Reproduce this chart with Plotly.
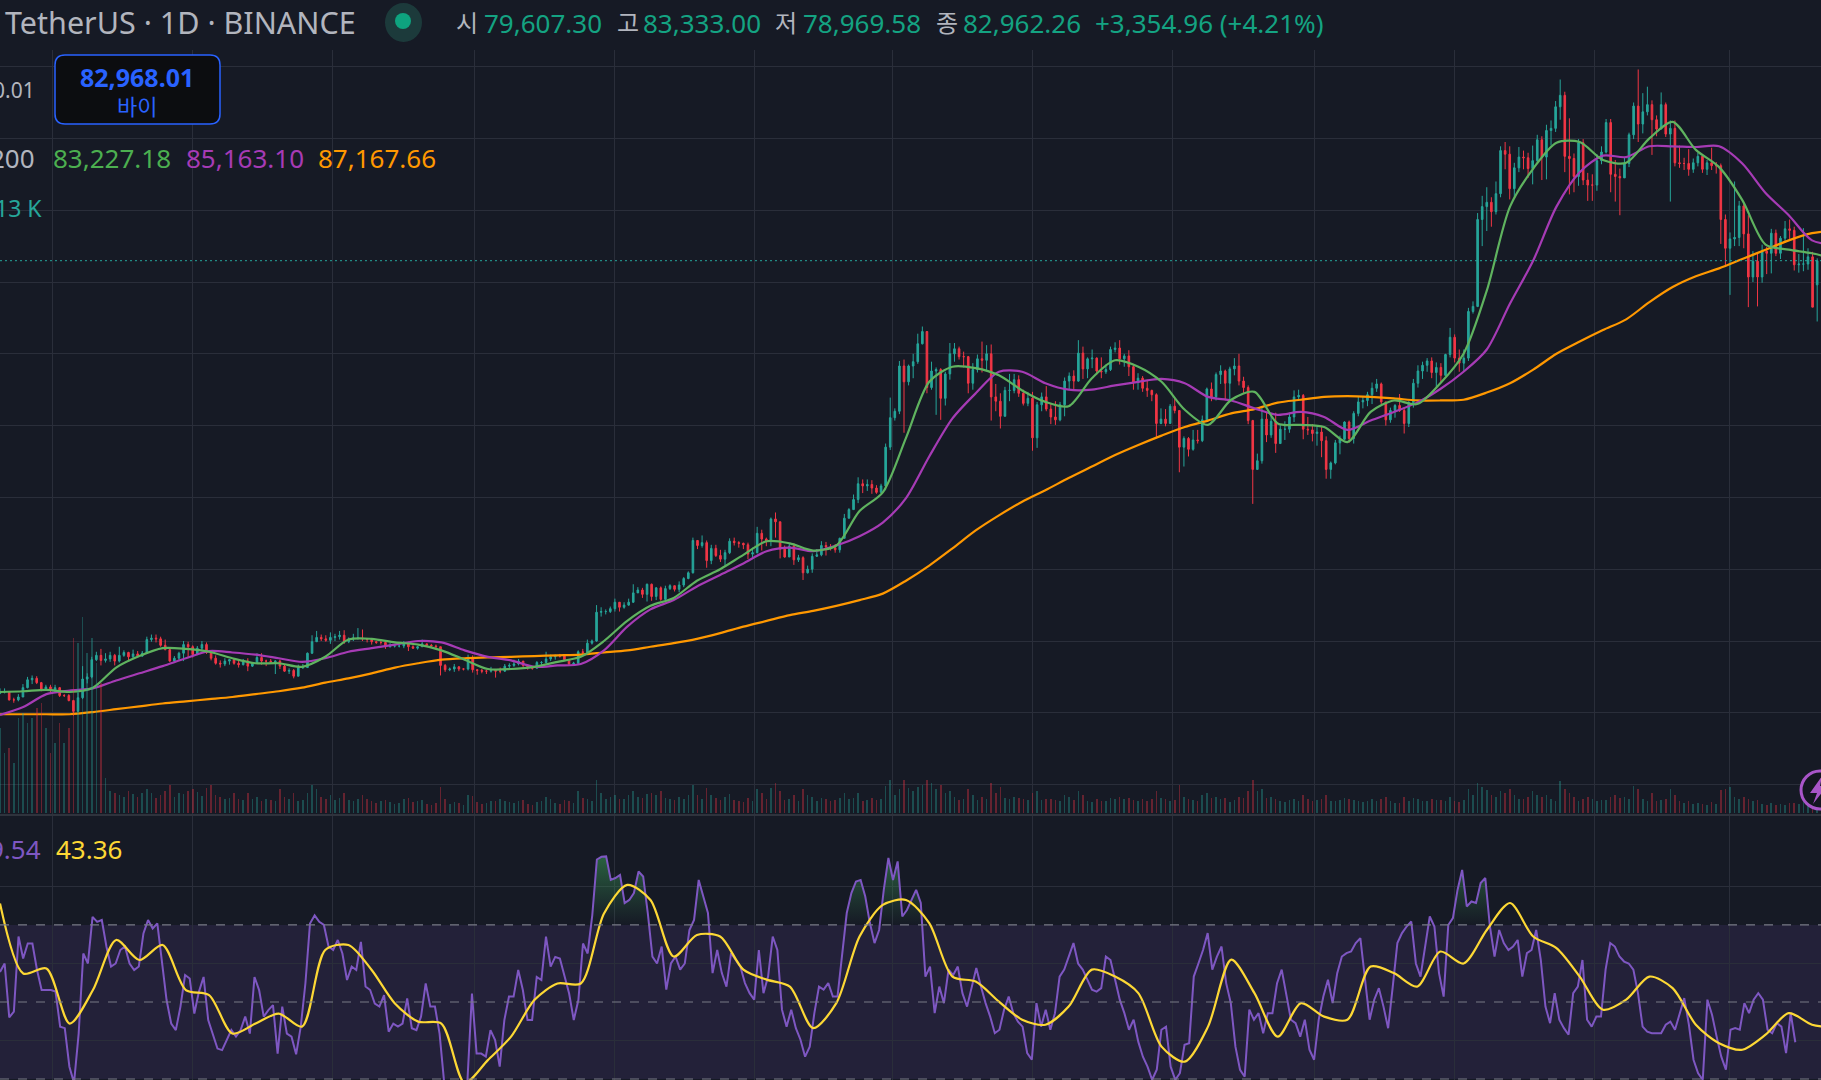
from datetime import datetime, timedelta
import plotly.graph_objects as go

START = datetime(2023, 2, 6)
END = datetime(2025, 4, 9, 16)

# two-day candles, prices in thousand USDT
closes = [
22.9,22.9,21.8,21.8,22.2,23.5,24.6,24.8,24.2,23.2,
23.6,23.1,23.5,22.4,22.4,21.7,20.2,22.1,24.7,25.0,
27.4,28.0,27.3,27.5,28.0,27.2,28.0,28.4,27.8,28.2,
27.9,28.3,30.2,30.4,30.3,29.4,28.8,27.2,27.6,28.3,
29.5,29.2,28.1,29.0,29.5,28.4,27.6,26.9,26.8,27.2,
27.4,26.9,26.7,27.2,26.5,26.9,27.7,27.2,27.2,27.1,
27.2,26.5,25.8,25.9,25.1,26.3,26.3,28.3,29.9,30.5,
30.3,30.1,30.5,30.6,30.8,29.9,30.3,30.4,30.4,30.3,
30.2,29.9,29.8,29.8,29.2,29.3,29.3,29.3,29.7,29.2,
29.0,29.2,29.6,29.4,29.3,29.2,26.6,26.0,26.1,26.4,
26.1,26.1,27.7,26.0,25.9,25.8,25.8,25.9,25.8,25.8,
26.5,26.6,26.8,27.2,26.6,26.3,26.2,27.0,27.0,27.5,
27.8,28.0,27.9,27.4,26.8,26.9,28.5,28.4,29.7,30.0,
34.0,34.1,34.1,34.5,35.4,34.7,35.0,35.4,36.7,37.1,
36.5,37.9,36.2,37.4,35.8,37.3,37.7,37.2,37.8,38.7,
39.5,44.0,43.3,43.7,41.2,42.9,41.9,41.4,42.3,43.9,
43.7,43.6,43.4,42.1,42.3,45.0,44.2,43.9,47.0,46.6,
42.8,41.7,43.2,41.3,41.6,39.5,40.0,41.8,42.0,43.3,
43.1,43.0,42.7,44.3,47.1,48.3,49.7,51.9,51.6,51.8,
51.3,50.7,51.6,57.0,61.1,62.0,68.3,66.1,68.3,68.9,
71.4,73.1,65.3,67.6,67.8,63.8,67.2,70.0,70.7,69.6,
69.6,65.9,67.8,69.3,69.1,70.0,64.0,63.4,61.3,64.9,
64.9,66.4,64.5,63.1,63.8,58.3,62.9,64.0,62.3,61.2,
60.8,62.9,66.2,66.9,66.2,70.1,67.9,69.3,69.4,67.6,
67.5,67.8,70.6,70.8,69.3,69.7,68.2,66.0,66.6,65.2,
64.9,64.3,60.3,60.9,60.3,62.7,62.1,57.0,58.2,56.7,
58.0,57.9,60.8,65.1,64.0,67.1,67.6,65.9,67.9,68.3,
66.2,65.3,60.7,53.9,55.1,60.9,58.7,60.6,57.5,59.5,
59.5,61.2,64.0,64.2,59.5,59.4,58.9,59.1,57.9,53.9,
54.8,57.6,58.1,60.5,58.2,61.7,63.3,63.5,64.3,65.2,
65.8,63.3,60.8,62.1,62.8,62.1,60.3,63.2,65.9,67.6,
68.4,69.0,67.4,68.1,67.0,69.9,72.3,69.4,68.7,69.4,
75.9,76.6,88.7,90.5,91.1,89.8,92.3,98.3,97.8,93.0,
95.9,97.4,97.3,95.8,96.9,99.8,97.4,101.1,101.4,104.4,
106.0,97.5,97.2,94.7,99.4,94.2,93.5,93.5,96.9,98.1,
102.2,95.0,94.7,94.5,96.5,100.5,104.5,102.0,103.7,104.7,
102.6,101.3,104.7,100.6,101.4,96.6,96.5,96.5,95.7,96.6,
97.5,95.7,96.6,96.2,96.2,88.7,84.7,86.0,86.2,90.6,
86.7,80.7,82.9,80.7,84.3,84.0,86.8,84.0,86.1,87.4,
87.2,82.4,82.5,82.5,83.5,76.5,82.96]

highs = [
23.4,23.4,23.0,22.1,22.6,24.0,25.0,25.2,25.1,24.3,
23.9,23.9,23.9,23.6,22.6,22.6,21.8,22.8,26.5,25.5,
27.8,28.5,28.9,28.3,28.5,28.2,29.2,28.7,28.5,28.8,
28.6,28.6,30.6,30.9,30.9,30.6,30.2,29.0,27.9,28.5,
30.0,29.9,29.4,29.3,30.0,29.8,28.6,28.0,27.3,27.6,
27.5,27.6,27.3,27.5,27.6,27.0,28.3,28.3,27.4,27.5,
27.3,27.4,26.8,26.2,26.1,26.7,26.8,28.4,30.8,31.4,
30.9,30.8,31.2,31.0,31.4,31.5,30.5,31.0,31.8,31.6,
30.4,30.4,30.0,30.0,30.0,29.7,29.6,29.4,30.0,29.9,
29.4,29.3,30.2,29.6,29.6,29.5,29.2,26.8,26.3,26.8,
26.5,26.2,28.1,28.0,26.1,26.1,26.0,26.4,26.0,26.3,
26.8,26.9,27.4,27.5,27.1,26.7,26.5,27.2,27.2,28.5,
28.1,28.1,28.2,27.9,27.5,27.1,28.7,28.9,30.2,30.2,
35.0,34.7,34.4,34.8,35.9,35.3,35.4,35.9,37.9,37.5,
37.4,38.0,38.0,37.5,37.6,37.7,37.9,37.7,38.3,38.9,
39.7,44.4,44.0,44.7,44.0,43.4,43.4,42.7,42.7,44.3,
44.4,43.9,43.7,43.7,43.0,45.9,45.5,44.4,47.2,47.9,
46.5,43.3,43.6,43.6,42.0,41.8,40.5,42.2,42.8,43.9,
43.8,43.5,43.5,44.4,47.7,48.5,50.4,52.8,52.5,52.5,
52.4,51.7,51.9,57.5,63.9,62.4,69.0,69.2,68.5,70.0,
72.8,73.8,73.0,68.9,68.1,68.0,67.5,71.5,71.5,71.0,
70.3,69.7,68.7,69.9,71.7,71.2,71.3,65.8,64.5,65.4,
67.2,67.2,67.0,65.0,64.7,64.7,63.3,64.6,65.5,63.0,
63.4,63.3,66.7,67.4,67.7,71.9,71.0,69.5,70.6,69.5,
69.5,68.5,71.0,71.6,71.9,70.0,70.5,68.4,67.3,66.9,
66.4,65.0,64.5,62.4,62.3,63.0,63.7,60.5,58.5,58.4,
59.4,59.4,61.4,65.3,66.0,67.4,68.4,67.8,68.2,69.4,
70.0,66.8,65.6,60.8,56.1,62.7,61.8,61.5,61.8,60.2,
60.6,61.8,64.9,65.0,64.4,61.2,60.2,59.8,59.8,58.5,
55.0,58.0,58.6,60.6,60.7,62.0,64.0,64.1,64.7,66.0,
66.5,66.0,63.3,62.5,63.0,64.4,62.6,63.4,66.5,68.4,
68.9,69.4,69.5,68.8,68.7,70.0,73.6,72.7,70.6,70.6,
76.4,77.3,89.6,92.0,93.2,91.8,94.0,98.9,99.5,98.9,
96.6,98.8,98.3,98.0,99.0,100.5,100.3,101.9,102.5,105.2,
108.2,106.5,102.8,97.9,99.9,99.9,95.2,95.0,97.8,98.9,
102.7,102.7,97.0,95.8,97.3,100.8,105.0,109.6,106.3,107.2,
105.3,103.2,106.4,105.0,102.5,102.5,99.0,97.3,98.5,97.2,
98.0,97.3,97.0,98.7,96.7,96.5,89.4,86.9,94.0,91.3,
91.0,89.3,84.3,84.0,85.2,84.9,87.4,87.3,86.4,88.5,
88.7,87.7,83.9,87.5,84.7,84.2,83.3]

lows = [
22.6,22.7,21.7,21.4,21.6,22.2,23.4,24.0,24.0,23.0,
23.1,22.8,22.9,22.2,22.2,21.6,19.6,20.4,21.9,24.1,
24.8,27.2,26.6,27.0,27.1,26.6,27.0,27.8,27.2,27.6,
27.7,27.8,28.2,29.9,29.8,29.2,28.7,27.1,27.0,27.2,
27.2,27.7,27.7,28.1,28.7,28.2,27.3,26.7,26.3,26.5,
26.7,26.7,26.3,26.6,25.8,26.4,26.9,26.7,26.5,26.8,
25.4,26.1,25.7,25.4,24.8,25.2,26.1,26.3,28.2,30.0,
30.0,29.9,29.6,30.0,30.2,29.6,29.7,30.0,30.2,30.0,
29.8,29.5,29.6,29.5,28.9,29.1,29.1,29.1,29.0,28.6,
28.9,28.8,29.2,29.2,29.2,29.0,25.2,25.7,25.8,25.7,
25.8,25.9,25.9,25.6,25.3,25.5,25.4,25.6,24.9,25.5,
25.7,26.2,26.4,26.6,26.3,26.0,26.0,26.2,26.5,26.9,
27.2,27.4,27.7,27.3,26.6,26.6,26.8,28.1,28.3,29.5,
29.9,33.4,33.7,33.9,34.1,34.1,34.5,34.9,35.3,36.8,
36.0,35.5,35.6,35.7,35.6,35.7,37.1,36.9,36.8,37.5,
38.6,39.4,42.8,43.0,40.2,40.7,41.7,41.0,40.5,42.1,
43.3,43.0,42.8,41.4,41.5,42.2,42.6,43.2,43.2,44.4,
41.5,41.6,41.7,40.6,41.0,38.5,39.4,39.5,41.7,41.8,
41.9,42.6,42.3,42.3,44.3,47.6,48.3,49.2,50.6,50.9,
50.5,50.5,50.6,51.0,56.6,60.7,61.6,59.0,65.6,66.6,
68.6,71.3,64.5,65.0,61.5,60.8,62.8,66.4,68.9,69.2,
68.1,64.5,65.0,67.4,67.4,67.6,60.7,62.0,59.6,61.6,
63.4,64.5,64.0,62.8,62.7,56.5,56.9,62.0,62.0,60.2,
60.1,60.6,61.3,65.0,65.1,66.1,66.5,66.6,68.0,67.1,
66.6,67.2,67.6,70.2,68.5,68.2,66.9,65.0,65.0,64.7,
64.0,63.4,58.4,60.2,59.9,60.3,61.7,53.5,54.3,55.7,
56.5,57.5,57.7,60.5,63.4,63.5,65.8,63.5,63.4,67.0,
65.6,64.5,60.2,49.1,54.0,54.7,57.7,58.3,56.2,57.7,
58.0,59.0,60.5,63.6,58.1,58.7,57.8,57.2,55.6,52.6,
52.6,54.6,56.0,58.0,57.6,57.5,61.3,62.4,62.7,63.0,
64.7,63.0,60.0,60.4,61.1,61.9,58.9,59.8,62.5,65.3,
66.5,67.5,66.6,65.3,66.0,66.9,69.5,68.8,67.5,67.5,
69.0,75.6,76.5,85.0,87.1,87.7,89.4,91.8,95.7,91.5,
91.6,95.3,95.7,94.5,93.6,96.5,94.2,94.3,99.0,100.9,
102.6,95.3,92.2,92.5,93.4,93.5,91.3,91.3,92.7,96.4,
97.9,92.5,91.2,89.3,94.5,96.0,99.9,99.5,100.7,103.2,
97.7,100.3,101.3,100.2,91.2,96.1,95.9,95.6,94.8,95.2,
96.1,95.2,94.9,95.6,95.1,85.3,82.3,78.2,85.0,85.0,
84.7,76.5,80.0,76.6,79.9,81.1,81.2,83.6,83.2,85.5,
86.0,81.6,81.3,81.5,81.7,77.0,74.5]

volumes = [
85,60,65,50,95,100,90,95,105,110,
85,60,70,90,70,85,175,170,196,160,
175,150,130,35,22,20,18,16,22,19,
16,20,24,20,15,18,22,28,16,20,
19,22,24,21,17,25,28,18,16,14,
15,20,14,13,20,14,16,12,14,13,
12,24,16,14,20,12,13,20,28,24,
16,14,18,13,15,20,13,12,14,18,
14,12,10,12,13,11,9,10,14,15,
11,12,13,9,8,10,26,14,9,11,
10,8,18,17,11,9,10,12,12,14,
12,11,10,12,13,9,8,11,12,16,
14,10,9,13,12,10,22,15,14,12,
33,20,14,16,18,14,14,18,22,16,
15,19,20,18,22,15,14,13,16,14,
18,28,18,14,25,18,15,13,16,19,
13,12,11,15,12,24,20,14,25,30,
22,13,14,18,12,24,18,16,12,15,
14,12,13,15,20,14,15,20,12,13,
15,13,14,27,33,18,24,33,25,22,
26,28,33,30,24,28,20,22,16,13,
14,24,18,13,16,14,30,20,26,15,
14,16,15,14,13,20,22,13,14,14,
13,12,18,16,13,22,18,12,11,14,
12,12,15,14,16,14,15,13,12,14,
12,14,22,15,14,12,13,28,16,14,
13,12,18,20,15,16,14,15,11,13,
16,15,22,33,22,24,15,16,14,12,
11,13,14,12,18,14,12,13,14,18,
12,12,13,15,14,13,12,11,12,14,
12,14,16,12,10,10,16,12,15,14,
12,12,14,13,13,12,16,12,11,13,
24,18,30,26,23,18,16,22,20,24,
18,14,14,16,22,18,16,18,14,12,
32,24,20,16,12,14,16,14,12,13,
13,16,18,15,16,14,27,24,14,12,
20,12,13,14,24,18,12,10,12,9,
10,9,8,11,9,23,24,26,16,14,
16,14,12,13,9,8,10,8,9,8,
10,10,9,11,12,16,13]

# moving averages, one reading about every ten days
sma_20 = [
22.9,23.0,23.2,22.9,23.5,26.3,27.9,29.0,28.9,28.5,27.6,26.9,26.9,26.4,27.8,30.2,30.3,29.8,29.5,28.7,
27.4,26.1,26.1,26.4,27.1,27.8,30.0,32.8,34.9,36.0,38.4,40.0,42.0,43.9,43.6,42.6,43.3,48.1,50.7,58.3,
66.1,68.2,68.0,67.0,64.9,63.3,62.7,66.6,69.1,68.2,66.1,62.2,60.1,63.6,64.7,60.3,60.1,59.8,57.7,61.9,
63.5,63.0,65.9,70.0,78.8,90.5,95.8,99.4,99.5,97.0,96.6,100.0,102.3,98.4,96.0,91.4,85.2,84.5,84.0,83.2]
sma_50 = [
19.7,20.8,22.6,23.1,23.4,24.5,25.5,26.5,27.6,28.6,28.4,28.1,27.6,27.1,27.6,28.5,29.0,29.5,30.0,29.8,
28.7,27.8,27.3,26.4,26.6,26.8,28.7,32.0,34.4,35.7,37.6,39.2,40.8,42.5,43.0,42.5,43.3,44.6,46.5,49.9,
55.7,61.0,64.5,67.5,67.5,65.9,65.0,65.0,65.6,66.1,66.5,65.9,64.0,63.5,62.4,61.5,61.9,61.2,59.4,60.7,
61.9,63.2,65.1,67.5,70.6,77.0,83.0,90.5,95.3,97.6,97.4,98.9,98.9,98.8,98.9,96.5,92.4,89.3,85.8,85.2]
sma_200 = [
19.8,19.8,19.8,19.8,20.1,20.5,20.9,21.3,21.6,21.9,22.2,22.6,23.0,23.5,24.2,24.8,25.5,26.3,26.9,27.4,
27.6,27.7,27.8,27.9,28.0,28.1,28.4,28.7,29.2,29.7,30.3,31.1,32.0,32.8,33.6,34.2,34.9,35.7,36.6,38.4,
40.5,42.9,45.4,47.5,49.4,51.0,52.7,54.3,55.9,57.3,58.6,59.8,60.7,61.7,62.3,63.2,63.6,64.0,64.1,64.0,
63.8,63.5,63.5,63.6,64.6,65.9,67.8,70.0,71.7,73.3,74.8,77.2,79.3,80.8,81.9,83.2,84.5,85.8,86.8,87.2]

rsi_values = [
57.8,60.0,46.0,47.5,67.0,61.3,65.2,65.2,58.3,53.1,53.1,53.1,52.7,43.6,43.2,33.2,29.0,41.8,62.6,60.0,
72.1,70.8,71.3,64.4,59.2,60.0,63.5,64.4,60.0,58.3,59.2,67.8,71.3,69.1,70.4,60.9,50.5,44.4,42.7,48.8,
57.0,56.1,47.0,52.7,56.5,45.3,41.8,37.9,37.5,40.1,42.7,41.0,42.7,46.2,41.8,56.5,53.1,46.2,47.9,49.2,
36.6,48.8,41.8,41.0,36.4,43.6,54.8,70.4,72.5,70.8,70.0,64.4,63.5,66.1,62.6,55.7,59.2,58.3,65.6,54.0,
53.1,49.6,48.8,51.8,42.3,44.4,43.6,44.4,50.9,43.2,42.7,46.2,54.8,48.8,48.8,41.8,29.0,27.0,24.0,26.0,
28.0,29.0,52.2,36.6,36.6,35.8,42.7,40.1,33.2,45.3,51.4,51.4,58.3,53.1,45.3,45.3,56.5,55.7,67.0,59.2,
61.7,61.3,56.5,52.2,45.3,50.5,65.2,62.6,72.5,87.0,87.7,
87.8,81.7,82.2,83.0,75.7,76.5,78.3,83.9,82.6,73.1,61.8,60.0,64.4,53.2,60.0,61.8,58.4,60.0,68.7,71.3,
81.7,77.4,73.1,57.5,63.5,57.5,54.0,62.7,60.9,59.2,54.9,52.3,50.6,63.5,52.3,56.6,67.0,63.5,48.0,43.6,
48.0,43.2,40.2,35.8,38.4,47.1,54.0,53.2,54.9,51.4,51.4,62.7,73.1,78.3,81.3,81.7,77.4,70.5,65.3,68.7,
79.1,87.4,81.7,86.5,72.2,73.9,76.5,79.1,75.7,56.6,59.2,47.1,54.0,49.7,58.4,57.0,59.2,52.3,48.8,54.0,
58.8,54.0,49.7,46.2,41.9,42.8,48.0,51.4,47.1,44.9,43.6,36.7,35.0,49.7,43.6,48.0,42.8,47.1,56.6,58.4,
61.8,65.3,60.0,58.4,55.8,53.2,52.7,53.6,61.8,60.9,55.8,50.6,47.1,42.8,45.4,39.7,35.8,33.2,29.8,32.4,
42.8,43.6,33.2,29.8,31.5,38.9,39.3,
56.6,60.0,63.5,67.9,58.4,61.8,64.4,54.9,49.7,38.4,32.4,30.6,48.0,45.4,47.1,41.9,47.1,47.1,54.9,58.4,
51.4,45.4,44.5,41.0,45.4,37.6,35.0,45.4,51.4,55.8,49.7,57.5,61.8,62.7,63.1,65.3,66.6,55.8,45.4,50.6,
53.6,48.8,43.2,54.0,65.3,67.9,69.6,70.9,60.0,56.6,64.4,72.2,69.6,57.5,51.4,70.0,71.8,79.1,84.3,74.8,
76.1,75.7,80.9,82.2,69.6,61.8,68.7,65.3,63.5,64.4,66.1,56.6,62.7,63.5,68.7,60.9,48.8,44.5,52.3,45.4,
43.2,41.5,52.3,54.0,60.9,45.4,43.6,46.2,46.2,58.4,65.3,64.4,61.8,60.5,60.0,58.4,52.3,43.6,42.3,41.9,
41.9,41.9,44.1,44.9,42.8,47.1,51.0,44.1,35.0,31.5,29.8,50.6,46.7,41.0,35.8,32.4,42.8,43.2,42.8,49.7,
47.1,50.6,52.3,50.6,42.8,41.9,44.5,43.6,36.7,47.1,39.54]

rsi_ma_values = [
75.6,57.4,58.7,44.4,53.1,66.1,60.9,64.8,53.1,51.8,41.8,44.4,47.0,43.6,63.5,64.8,58.3,49.6,44.9,44.4,
29.0,34.9,41.0,50.5,54.8,54.8,73.0,80.4,76.5,61.8,67.4,67.0,58.4,55.8,54.0,43.2,49.7,67.0,75.2,76.5,
70.5,56.6,55.3,50.1,45.4,44.1,48.8,58.4,56.6,52.3,38.4,34.5,43.6,61.0,52.3,41.0,49.7,46.2,45.4,59.2,
57.5,54.0,63.1,60.0,68.7,75.7,67.0,64.0,56.6,48.0,50.6,56.6,53.6,44.1,39.3,37.6,41.5,47.1,44.1,43.36]

# page pixels to paper coordinates
def px(x):
    return x / 1821

def py(y):
    return 1 - y / 1080

bar_dates = [START + timedelta(days=2 * i) for i in range(len(closes))]
opens = [closes[0] - 0.2] + closes[:-1]
opens[-1] = 79.6
ma_dates = [START + timedelta(hours=243 * i) for i in range(len(sma_20))]
rsi_dates = [START + timedelta(hours=48.4 * i) for i in range(len(rsi_values))]
rsi_ma_dates = [START + timedelta(hours=243 * i) for i in range(len(rsi_ma_values))]

TEAL = "#26a69a"
RED = "#f23645"
BG = "#161a25"
GRID = "#2a2e3a"

fig = go.Figure()

vol_colors = ["rgba(38,166,154,0.36)" if c >= o else "rgba(242,54,69,0.36)" for o, c in zip(opens, closes)]
fig.add_trace(go.Bar(x=bar_dates, y=volumes, marker=dict(color=vol_colors, line=dict(width=0)),
                     width=60000000, xaxis="x", yaxis="y2", hoverinfo="skip"))
fig.add_trace(go.Candlestick(x=bar_dates, open=opens, high=highs, low=lows, close=closes,
                             increasing=dict(line=dict(color=TEAL, width=1), fillcolor=TEAL),
                             decreasing=dict(line=dict(color=RED, width=1), fillcolor=RED),
                             whiskerwidth=0, xaxis="x", yaxis="y"))
for vals, col in ((sma_200, "#ff9800"), (sma_50, "#a63bb5"), (sma_20, "#5fb35f")):
    fig.add_trace(go.Scatter(x=ma_dates, y=vals, mode="lines",
                             line=dict(color=col, width=2.2, shape="spline", smoothing=0.8),
                             xaxis="x", yaxis="y", hoverinfo="skip"))

# RSI pane
fig.add_trace(go.Scatter(x=rsi_dates, y=[70] * len(rsi_values), mode="lines", line=dict(width=0),
                         xaxis="x2", yaxis="y3", hoverinfo="skip"))
fig.add_trace(go.Scatter(x=rsi_dates, y=[max(v, 70) for v in rsi_values], mode="lines", line=dict(width=0),
                         fill="tonexty",
                         fillgradient=dict(type="vertical",
                                           colorscale=[[0, "rgba(60,150,90,0)"], [1, "rgba(60,170,90,0.5)"]]),
                         xaxis="x2", yaxis="y3", hoverinfo="skip"))
fig.add_trace(go.Scatter(x=rsi_dates, y=rsi_values, mode="lines", line=dict(color="#7e57c2", width=2),
                         xaxis="x2", yaxis="y3", hoverinfo="skip"))
fig.add_trace(go.Scatter(x=rsi_ma_dates, y=rsi_ma_values, mode="lines",
                         line=dict(color="#fdd835", width=2.2, shape="spline", smoothing=0.8),
                         xaxis="x2", yaxis="y3", hoverinfo="skip"))

x_common = dict(type="date", range=[START, END], dtick="M2", tick0="2023-03-01", showgrid=True,
                gridcolor=GRID, gridwidth=1, showticklabels=False, zeroline=False, showline=False,
                ticks="", rangeslider=dict(visible=False))

shapes = [
    dict(type="rect", xref="paper", yref="y3", x0=0, x1=1, y0=30, y1=70, layer="below",
         fillcolor="rgba(126,87,194,0.13)", line=dict(width=0)),
    dict(type="line", xref="paper", yref="paper", x0=0, x1=1, y0=py(815), y1=py(815),
         line=dict(color="#2f333d", width=2)),
    dict(type="line", xref="paper", yref="y", x0=0, x1=1, y0=82.968, y1=82.968,
         line=dict(color=TEAL, width=1, dash="2px,3px")),
]
for level in (70, 50, 30):
    shapes.append(dict(type="line", xref="paper", yref="y3", x0=0, x1=1, y0=level, y1=level,
                       line=dict(color="#787b86", width=1.2, dash="9px,9px")))

# live dot
shapes.append(dict(type="circle", xref="paper", yref="paper", x0=px(385), x1=px(422), y0=py(42), y1=py(3),
                   fillcolor="#1c3a3b", line=dict(width=0)))
shapes.append(dict(type="circle", xref="paper", yref="paper", x0=px(395), x1=px(411), y0=py(29), y1=py(13),
                   fillcolor="#0ea37f", line=dict(width=0)))

# buy box
def rounded(x0, y0, x1, y1, r):
    return (f"M {px(x0+r)} {py(y0)} L {px(x1-r)} {py(y0)} Q {px(x1)} {py(y0)} {px(x1)} {py(y0+r)} "
            f"L {px(x1)} {py(y1-r)} Q {px(x1)} {py(y1)} {px(x1-r)} {py(y1)} "
            f"L {px(x0+r)} {py(y1)} Q {px(x0)} {py(y1)} {px(x0)} {py(y1-r)} "
            f"L {px(x0)} {py(y0+r)} Q {px(x0)} {py(y0)} {px(x0+r)} {py(y0)} Z")
shapes.append(dict(type="path", xref="paper", yref="paper", path=rounded(55, 55, 220, 124, 10),
                   fillcolor="#0c0d10", line=dict(color="#2962ff", width=1.5)))

# lightning badge
shapes.append(dict(type="circle", xref="paper", yref="paper", x0=px(1801), x1=px(1839), y0=py(809), y1=py(771),
                   fillcolor="#131620", line=dict(color="#a855c8", width=3)))
shapes.append(dict(type="path", xref="paper", yref="paper",
                   path=(f"M {px(1822)} {py(776)} L {px(1810)} {py(793)} L {px(1817)} {py(793)} "
                         f"L {px(1813)} {py(804)} L {px(1827)} {py(786)} L {px(1820)} {py(786)} Z"),
                   fillcolor="#a855c8", line=dict(width=0)))

FONT = "Noto Sans, Noto Sans CJK KR, sans-serif"
GREY = "#b2b5be"
GREEN = "#14a382"

def label(x, y, text, color, size, anchor="left", bold=False):
    return dict(xref="paper", yref="paper", x=px(x), y=py(y), text=f"<b>{text}</b>" if bold else text,
                showarrow=False, xanchor=anchor, yanchor="middle",
                font=dict(family=FONT, size=size, color=color))

annotations = [
    label(3, 22, "TetherUS · 1D · BINANCE", GREY, 30.5),
    label(454, 23, "시", GREY, 24), label(482, 23, "79,607.30", GREEN, 26),
    label(615, 23, "고", GREY, 24), label(641, 23, "83,333.00", GREEN, 26),
    label(773, 23, "저", GREY, 24), label(801, 23, "78,969.58", GREEN, 26),
    label(934, 23, "종", GREY, 24), label(961, 23, "82,962.26", GREEN, 26),
    label(1093, 23, "+3,354.96 (+4.21%)", GREEN, 26),
    label(37, 90, "0.01", GREY, 21, "right"),
    label(137, 77, "82,968.01", "#2962ff", 25, "center", True),
    label(137, 106, "바이", "#2962ff", 22, "center"),
    label(37, 158, "200", GREY, 26, "right"),
    label(51, 158, "83,227.18", "#4caf50", 26),
    label(184, 158, "85,163.10", "#a63bb5", 26),
    label(316, 158, "87,167.66", "#ff9800", 26),
    label(44, 208, "13 K", TEAL, 23, "right"),
    label(43, 849, "9.54", "#7e57c2", 26, "right"),
    label(54, 849, "43.36", "#fdd835", 26),
]

fig.update_layout(
    width=1821, height=1080, margin=dict(l=0, r=0, t=0, b=0),
    paper_bgcolor=BG, plot_bgcolor=BG, showlegend=False, boxgap=0.5, bargap=0,
    xaxis=dict(**x_common, domain=[0, 1], anchor="y"),
    xaxis2=dict(**x_common, domain=[0, 1], anchor="y3", matches="x"),
    yaxis=dict(domain=[py(815), py(50)], range=[5.766, 112.312], dtick=10, tick0=0, gridcolor=GRID,
               showticklabels=False, zeroline=False, ticks=""),
    yaxis2=dict(domain=[py(815), py(50)], range=[-2, 763], overlaying="y", showgrid=False,
                showticklabels=False, zeroline=False, ticks=""),
    yaxis3=dict(domain=[0, py(816)], range=[29.74, 98.3], dtick=20, tick0=0, gridcolor=GRID,
                showticklabels=False, zeroline=False, ticks=""),
    shapes=shapes, annotations=annotations, hovermode=False,
)

fig.write_html("out.html", config=dict(displayModeBar=False),
               post_script="document.body.style.margin='0';document.body.style.background='#161a25';")
